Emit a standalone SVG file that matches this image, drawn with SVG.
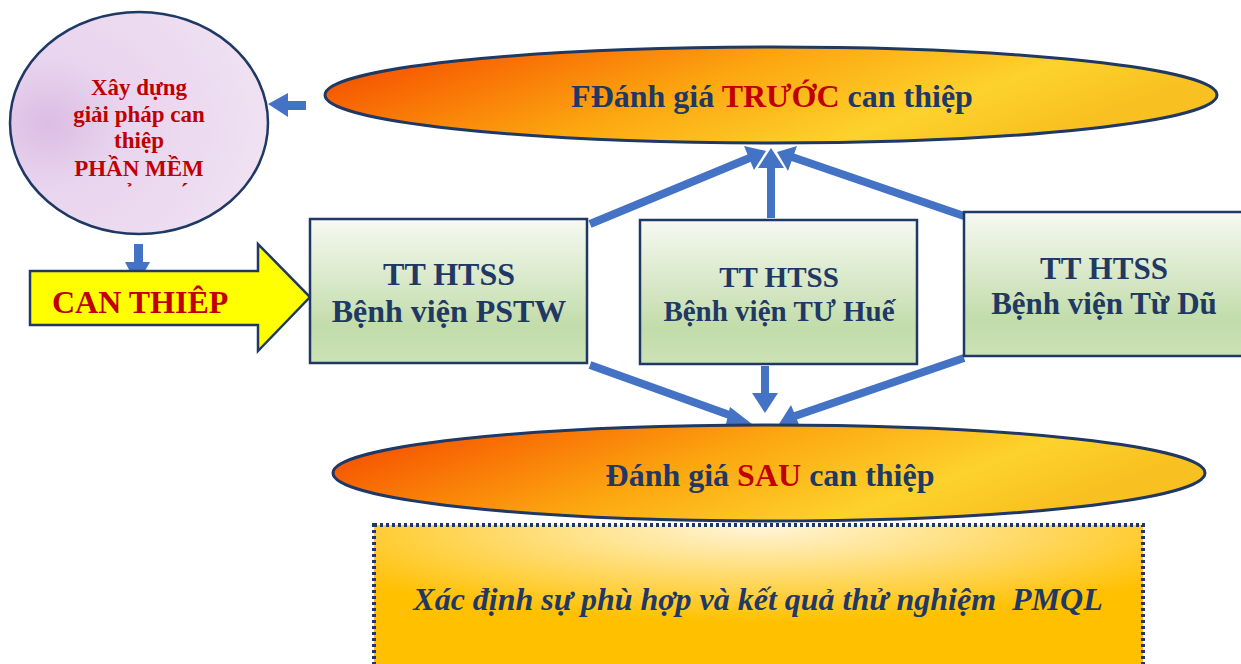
<svg xmlns="http://www.w3.org/2000/svg" width="1241" height="664" viewBox="0 0 1241 664">
<style>
text{font-family:"Liberation Serif","Times New Roman",serif;font-weight:bold}
.navy{fill:#1f3864}
.red{fill:#c00000}
.box{fill:url(#gGreen);stroke:#1f3864;stroke-width:2.5}
.ell{fill:url(#gOrange);stroke:#1f3864;stroke-width:3}
.conn{stroke:#4472c4;stroke-width:8;fill:none}
.head{fill:#4472c4}
</style>
<defs>
<linearGradient id="gGreen" x1="0" y1="0" x2="0" y2="1">
<stop offset="0" stop-color="#f6f9f2"/>
<stop offset="0.75" stop-color="#c2dcaa"/>
<stop offset="1" stop-color="#cbe2b6"/>
</linearGradient>
<linearGradient id="gOrange" x1="0" y1="0" x2="1" y2="0.3">
<stop offset="0" stop-color="#f04000"/>
<stop offset="0.2" stop-color="#f86a04"/>
<stop offset="0.5" stop-color="#fca810"/>
<stop offset="0.8" stop-color="#fdd22c"/>
<stop offset="1" stop-color="#f8c020"/>
</linearGradient>
<radialGradient id="gGold" cx="0.5" cy="0" r="0.65" fx="0.5" fy="0">
<stop offset="0" stop-color="#fff6dc"/>
<stop offset="0.55" stop-color="#ffd966"/>
<stop offset="1" stop-color="#ffc000"/>
</radialGradient>
<radialGradient id="gLav" cx="0.15" cy="0.5" r="0.8">
<stop offset="0" stop-color="#dcbce4"/>
<stop offset="0.35" stop-color="#e8d4ee"/>
<stop offset="1" stop-color="#efe0f2"/>
</radialGradient>
<clipPath id="cCirc"><rect x="0" y="60" width="280" height="128"/></clipPath>
</defs>

<g id="connectors">
<line class="conn" x1="590" y1="224" x2="752" y2="157"/>
<polygon class="head" points="766,151 744,146 754,170"/>
<line class="conn" x1="771" y1="218" x2="771" y2="165"/>
<polygon class="head" points="771,148 758,168 784,168"/>
<line class="conn" x1="964" y1="216" x2="792" y2="157"/>
<polygon class="head" points="777,152 788,171 797,146"/>
<line class="conn" x1="590" y1="365" x2="735" y2="417"/>
<polygon class="head" points="752,424 730,407 725,428"/>
<line class="conn" x1="765" y1="366" x2="765" y2="396"/>
<polygon class="head" points="765,413 752,393 778,393"/>
<line class="conn" x1="964" y1="358" x2="795" y2="416"/>
<polygon class="head" points="779,424 791,405 800,427"/>
<polygon class="head" points="268,104 288,93 288,101 306,101 306,110 288,110 288,117"/>
<polygon class="head" points="134,244 143,244 143,262 150,262 137,285 125,262 134,262"/>
</g>

<g id="circle">
<ellipse cx="139" cy="123" rx="129" ry="111" fill="url(#gLav)" stroke="#1f3864" stroke-width="2.5"/>
<g clip-path="url(#cCirc)" class="red" font-size="23" text-anchor="middle">
<text x="139" y="95">Xây dựng</text>
<text x="139" y="122">giải pháp can</text>
<text x="139" y="148">thiệp</text>
<text x="139" y="176">PHẦN MỀM</text>
<text x="139" y="203">QUẢN LÝ</text>
</g>
</g>

<g id="truoc">
<ellipse class="ell" cx="771" cy="95" rx="446" ry="48"/>
<text x="772" y="107" font-size="32" text-anchor="middle" class="navy">FĐánh giá <tspan class="red">TRƯỚC</tspan> can thiệp</text>
</g>

<g id="can-thiep">
<polygon points="30,271 258,271 258,244 310,297 258,351 258,325 30,325" fill="#ffff00" stroke="#1f3864" stroke-width="2.5"/>
<text x="52" y="313" font-size="32" class="red">CAN THIÊP</text>
</g>

<g id="pstw">
<rect class="box" x="310" y="219" width="277" height="144"/>
<text x="449" y="285" font-size="32" text-anchor="middle" class="navy">TT HTSS</text>
<text x="449" y="322" font-size="32" text-anchor="middle" class="navy">Bệnh viện PSTW</text>
</g>

<g id="hue">
<rect class="box" x="640" y="220" width="277" height="144"/>
<text x="779" y="287" font-size="29" text-anchor="middle" class="navy">TT HTSS</text>
<text x="779" y="321" font-size="29" text-anchor="middle" class="navy">Bệnh viện TƯ Huế</text>
</g>

<g id="tudu">
<rect class="box" x="964" y="212" width="290" height="144"/>
<text x="1104" y="279" font-size="31" text-anchor="middle" class="navy">TT HTSS</text>
<text x="1104" y="314" font-size="31" text-anchor="middle" class="navy">Bệnh viện Từ Dũ</text>
</g>

<g id="sau">
<ellipse class="ell" cx="769" cy="473" rx="436" ry="48"/>
<text x="770" y="486" font-size="32" text-anchor="middle" class="navy">Đánh giá <tspan class="red">SAU</tspan> can thiệp</text>
</g>

<g id="ket-qua">
<rect x="374" y="525" width="769" height="150" fill="url(#gGold)" stroke="#1f3864" stroke-width="4" stroke-dasharray="3,3"/>
<text x="758" y="610" font-size="32" font-style="italic" text-anchor="middle" class="navy" xml:space="preserve">Xác định sự phù hợp và kết quả thử nghiệm  PMQL</text>
</g>
</svg>
